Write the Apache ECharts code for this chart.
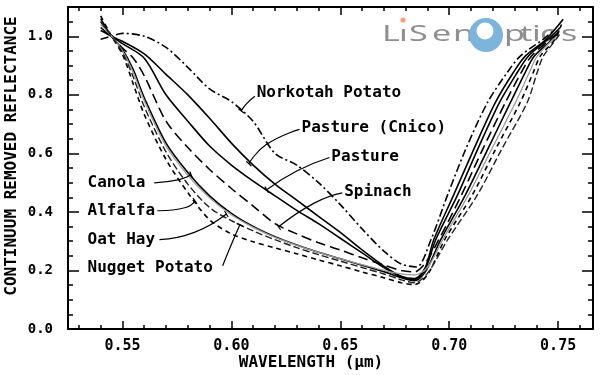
<!DOCTYPE html>
<html><head><meta charset="utf-8">
<script src="https://cdn.jsdelivr.net/npm/echarts@6/dist/echarts.min.js"></script>
<style>html,body{margin:0;padding:0;background:#fff}#c{width:600px;height:375px}</style>
</head><body><div id="c"></div>
<script>
// ---- axis ticks / labels ----
const xMajor = [0.55, 0.60, 0.65, 0.70, 0.75];
const xMinor = [0.53,0.54,0.55,0.56,0.57,0.58,0.59,0.60,0.61,0.62,0.63,0.64,0.65,0.66,0.67,0.68,0.69,0.70,0.71,0.72,0.73,0.74,0.75,0.76];
const yMajor = [0.0, 0.2, 0.4, 0.6, 0.8, 1.0];
const yMinor = [0.05,0.1,0.15,0.2,0.25,0.3,0.35,0.4,0.45,0.5,0.55,0.6,0.65,0.7,0.75,0.8,0.85,0.9,0.95,1.0,1.05];

// ---- series data: [wavelength (um), continuum removed reflectance] ----
const norkotah = [[0.54,0.99],[0.545,1.0],[0.55,1.01],[0.56,1.0],[0.57,0.962],[0.58,0.894],[0.59,0.82],[0.60,0.777],[0.61,0.709],[0.62,0.60],[0.63,0.56],[0.64,0.50],[0.65,0.425],[0.66,0.342],[0.67,0.266],[0.678,0.222],[0.685,0.212],[0.6916,0.305],[0.6993,0.459],[0.7075,0.613],[0.7176,0.774],[0.7267,0.877],[0.7326,0.932],[0.7432,0.99],[0.748,1.02]];
const pastureChico = [[0.54,1.03],[0.545,1.0],[0.55,0.983],[0.56,0.94],[0.57,0.87],[0.58,0.80],[0.59,0.72],[0.60,0.635],[0.61,0.56],[0.62,0.495],[0.63,0.44],[0.64,0.385],[0.65,0.33],[0.66,0.27],[0.67,0.215],[0.678,0.18],[0.684,0.172],[0.689,0.21],[0.6929,0.305],[0.7021,0.459],[0.7112,0.613],[0.7212,0.774],[0.7295,0.877],[0.7349,0.932],[0.7445,0.99],[0.7523,1.058]];
const pasture = [[0.54,1.02],[0.545,1.0],[0.55,0.975],[0.56,0.925],[0.57,0.80],[0.58,0.71],[0.59,0.625],[0.60,0.56],[0.61,0.505],[0.62,0.455],[0.63,0.405],[0.64,0.36],[0.65,0.31],[0.66,0.26],[0.67,0.21],[0.678,0.178],[0.684,0.168],[0.689,0.205],[0.6938,0.305],[0.7039,0.459],[0.7130,0.613],[0.7231,0.774],[0.7313,0.877],[0.7363,0.932],[0.7454,0.99],[0.751,1.03]];
const spinach = [[0.54,1.05],[0.545,1.0],[0.55,0.96],[0.555,0.925],[0.56,0.865],[0.57,0.71],[0.58,0.62],[0.59,0.545],[0.60,0.48],[0.61,0.42],[0.62,0.36],[0.63,0.325],[0.64,0.295],[0.65,0.27],[0.66,0.243],[0.67,0.218],[0.678,0.2],[0.684,0.195],[0.689,0.225],[0.6952,0.305],[0.7057,0.459],[0.7153,0.613],[0.7258,0.774],[0.7331,0.877],[0.7377,0.932],[0.7463,0.99],[0.7495,1.01]];
const canola = [[0.54,1.06],[0.545,1.0],[0.55,0.955],[0.555,0.885],[0.56,0.79],[0.57,0.635],[0.58,0.535],[0.59,0.455],[0.60,0.395],[0.61,0.35],[0.62,0.315],[0.63,0.287],[0.64,0.262],[0.65,0.24],[0.66,0.218],[0.67,0.196],[0.678,0.175],[0.684,0.165],[0.689,0.195],[0.6961,0.305],[0.7075,0.459],[0.7176,0.613],[0.7281,0.774],[0.7349,0.877],[0.7390,0.932],[0.7473,0.99],[0.7505,1.02]];
const alfalfa = [[0.54,1.07],[0.545,1.0],[0.55,0.938],[0.555,0.836],[0.56,0.733],[0.57,0.579],[0.58,0.466],[0.59,0.373],[0.60,0.325],[0.61,0.298],[0.62,0.277],[0.63,0.257],[0.64,0.236],[0.65,0.216],[0.66,0.195],[0.67,0.175],[0.678,0.158],[0.684,0.152],[0.69,0.185],[0.6979,0.305],[0.7107,0.459],[0.7212,0.613],[0.7326,0.774],[0.7386,0.877],[0.7418,0.932],[0.7486,0.99],[0.7515,1.04]];
const oatHay = [[0.54,1.04],[0.545,1.0],[0.55,0.95],[0.555,0.875],[0.56,0.78],[0.57,0.625],[0.58,0.525],[0.59,0.448],[0.60,0.39],[0.61,0.347],[0.62,0.313],[0.63,0.286],[0.64,0.262],[0.65,0.24],[0.66,0.22],[0.67,0.2],[0.678,0.188],[0.684,0.185],[0.69,0.21],[0.6970,0.305],[0.7089,0.459],[0.7194,0.613],[0.7304,0.774],[0.7368,0.877],[0.7404,0.932],[0.7477,0.99],[0.75,1.0]];
const nuggetPotato = [[0.54,1.05],[0.545,1.0],[0.55,0.945],[0.555,0.86],[0.56,0.76],[0.57,0.605],[0.58,0.495],[0.59,0.415],[0.60,0.37],[0.61,0.335],[0.62,0.305],[0.63,0.278],[0.64,0.254],[0.65,0.232],[0.66,0.21],[0.67,0.188],[0.678,0.168],[0.684,0.158],[0.69,0.19],[0.6993,0.305],[0.7130,0.459],[0.7240,0.613],[0.7358,0.774],[0.7404,0.877],[0.7432,0.932],[0.7491,0.99],[0.751,1.01]];

// ---- annotation labels: text anchor and leader geometry in data coords ----
const labelNames = ['Norkotah Potato','Pasture (Cnico)','Pasture','Spinach','Canola','Alfalfa','Oat Hay','Nugget Potato'];
const labelAnchors = [[0.6116,0.808],[0.6322,0.688],[0.6459,0.589],[0.6518,0.469],[0.5340,0.50],[0.5340,0.404],[0.5340,0.305],[0.5340,0.209]];
const leaderStarts = [[0.6108,0.795],[0.6313,0.682],[0.6450,0.586],[0.6509,0.465],[0.5646,0.499],[0.5660,0.404],[0.5670,0.305],[0.5960,0.216]];
const leaderBends = [[0.6070,0.77],[0.6160,0.63],[0.6300,0.54],[0.6380,0.43],[0.5760,0.51],[0.5790,0.415],[0.5830,0.33],[0.5995,0.28]];
const leaderTips = [[0.6045,0.745],[0.6080,0.565],[0.6162,0.476],[0.6217,0.349],[0.5815,0.527],[0.5833,0.437],[0.5977,0.393],[0.6039,0.356]];

// ---- logo letters ----
const logoLetters = ['L','ı','S','e','n','p','t','i','c','s'];

const FONT = 'DejaVu Sans Mono';
const chart = echarts.init(document.getElementById('c'));

function xAx(pos, major, showLabel) {
  return {
    type: 'value', min: 0.525, max: 0.766, position: pos,
    axisLine: { show: major, onZero: false, lineStyle: { color: '#000', width: 2 } },
    axisTick: { show: true, inside: true, length: major ? 8 : 4, customValues: major ? xMajor : xMinor, lineStyle: { color: '#000', width: 1.5 } },
    axisLabel: { show: showLabel, customValues: xMajor, formatter: v => v.toFixed(2), margin: 10,
      fontFamily: FONT, fontWeight: 'bold', fontSize: 15, color: '#000' },
    splitLine: { show: false }
  };
}
function yAx(pos, major, showLabel) {
  return {
    type: 'value', min: 0, max: 1.1, position: pos,
    axisLine: { show: major, onZero: false, lineStyle: { color: '#000', width: 2 } },
    axisTick: { show: true, inside: true, length: major ? 11 : 5, customValues: major ? yMajor : yMinor, lineStyle: { color: '#000', width: 1.5 } },
    axisLabel: { show: showLabel, customValues: yMajor, formatter: v => v.toFixed(1), margin: 15,
      fontFamily: FONT, fontWeight: 'bold', fontSize: 14, color: '#000' },
    splitLine: { show: false }
  };
}

const styles = [
  { name: 'Norkotah Potato', data: norkotah, color: '#000', width: 1.6, type: [8, 3, 2, 3] },
  { name: 'Pasture (Chico)', data: pastureChico, color: '#000', width: 1.6, type: 'solid' },
  { name: 'Pasture', data: pasture, color: '#000', width: 1.6, type: 'solid' },
  { name: 'Spinach', data: spinach, color: '#000', width: 1.6, type: [10, 5] },
  { name: 'Canola', data: canola, color: '#000', width: 1.6, type: 'solid' },
  { name: 'Alfalfa', data: alfalfa, color: '#000', width: 1.6, type: [5, 4] },
  { name: 'Oat Hay', data: oatHay, color: '#9a9a9a', width: 1.3, type: 'solid' },
  { name: 'Nugget Potato', data: nuggetPotato, color: '#222', width: 1.4, type: [7, 3] }
];

chart.setOption({
  animation: false,
  backgroundColor: '#fff',
  grid: { left: 68, right: 7, top: 7, bottom: 46 },
  xAxis: [xAx('bottom', true, true), xAx('bottom', false, false), xAx('top', true, false), xAx('top', false, false)],
  yAxis: [yAx('left', true, true), yAx('left', false, false), yAx('right', true, false), yAx('right', false, false)],
  series: styles.map(s => ({
    type: 'line', name: s.name, data: s.data, xAxisIndex: 0, yAxisIndex: 0,
    showSymbol: false, smooth: 0.3, z: 3,
    lineStyle: { color: s.color, width: s.width, type: s.type }
  }))
});

// ---- annotations ----
const px = p => chart.convertToPixel({ gridIndex: 0 }, p);
const g = [];
for (let i = 0; i < labelNames.length; i++) {
  const a = px(labelAnchors[i]);
  const s = px(leaderStarts[i]), b = px(leaderBends[i]), t = px(leaderTips[i]);
  g.push({ type: 'text', x: a[0], y: a[1], z: 10,
    style: { text: labelNames[i], fontFamily: FONT, fontWeight: 'bold', fontSize: 16, fill: '#000',
      align: 'left', verticalAlign: 'middle' } });
  g.push({ type: 'polyline', z: 10, shape: { points: [s, b, t], smooth: 0.5 },
    style: { stroke: '#000', lineWidth: 1.2, fill: null } });
  const dx = t[0] - b[0], dy = t[1] - b[1], L = Math.hypot(dx, dy) || 1;
  const nx = -dy / L * 3.5, ny = dx / L * 3.5;
  g.push({ type: 'line', z: 10, shape: { x1: t[0] - nx, y1: t[1] - ny, x2: t[0] + nx, y2: t[1] + ny },
    style: { stroke: '#000', lineWidth: 1.2 } });
}
// axis names
g.push({ type: 'text', x: 12, y: 156, rotation: Math.PI / 2, z: 10,
  style: { text: 'CONTINUUM REMOVED REFLECTANCE', fontFamily: FONT, fontWeight: 'bold', fontSize: 16, fill: '#000', align: 'center', verticalAlign: 'middle' } });
g.push({ type: 'text', x: 311, y: 363, z: 10,
  style: { text: 'WAVELENGTH (μm)', fontFamily: FONT, fontWeight: 'bold', fontSize: 16, fill: '#000', align: 'center', verticalAlign: 'middle' } });
// logo (decorative watermark)
const logoX = [382, 399, 409, 432, 453, 504, 520, 532, 540, 561];
logoLetters.forEach((ch, i) => {
  g.push({ type: 'text', x: logoX[i], y: 35, scaleX: 1.55, z: 1,
    style: { text: ch, fontFamily: 'Noto Sans', fontSize: 22, fill: '#8f8f8f', align: 'left', verticalAlign: 'middle' } });
});
g.push({ type: 'circle', z: 1, shape: { cx: 403, cy: 20, r: 2.6 }, style: { fill: '#f2a07c' } });
g.push({ type: 'circle', z: 1, shape: { cx: 486, cy: 35, r: 17 }, style: { fill: '#7db4dc' } });
g.push({ type: 'circle', z: 1, shape: { cx: 485, cy: 31, r: 8.5 }, style: { fill: '#fff' } });
chart.setOption({ graphic: g });
</script></body></html>
